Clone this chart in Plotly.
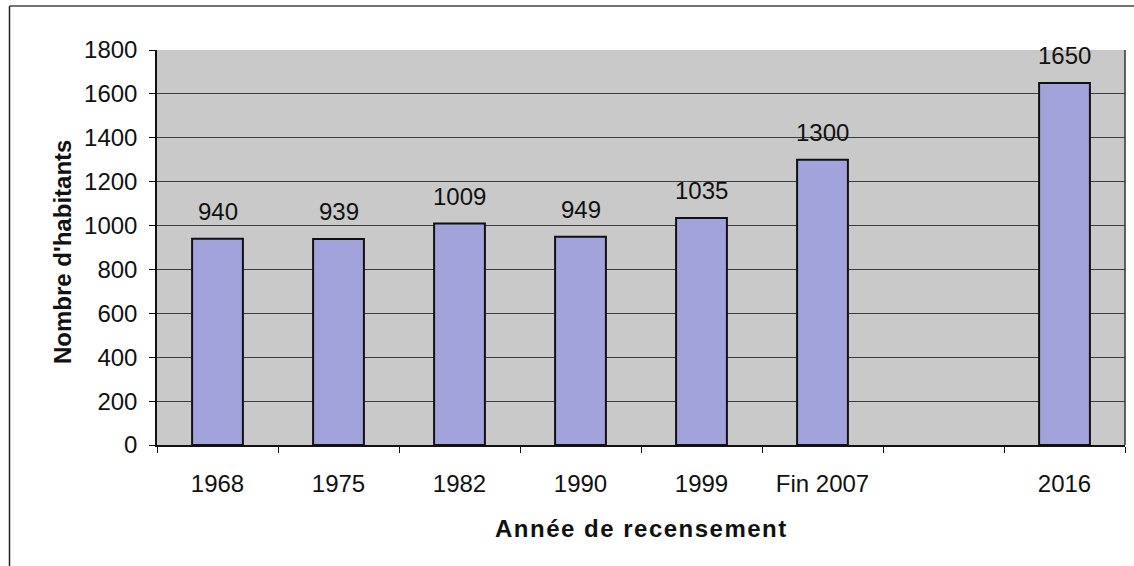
import plotly.graph_objects as go

categories = ["1968", "1975", "1982", "1990", "1999", "Fin 2007", " ", "2016"]
habitants = [940, 939, 1009, 949, 1035, 1300, None, 1650]
y_ticks = [0, 200, 400, 600, 800, 1000, 1200, 1400, 1600, 1800]

FONT = "Liberation Sans, Arial, sans-serif"

fig = go.Figure()
fig.add_trace(go.Bar(
    x=categories, y=habitants,
    marker=dict(color="#a3a3dc", line=dict(color="#111111", width=2)),
    width=0.42,
    hoverinfo="x+y",
))

annotations = []
for i, v in enumerate(habitants):
    if v is None:
        continue
    annotations.append(dict(
        x=i, y=v, xref="x", yref="y", text=str(v), showarrow=False,
        yanchor="middle", yshift=27,
        font=dict(family=FONT, size=24, color="#111111"),
    ))

L, R, T, B = 157, 9, 50, 121
W, H = 1134 - L - R, 566 - T - B

def px(xp):
    return (xp - L) / W

def py(yp):
    return (566 - B - yp) / H

annotations.append(dict(
    x=px(641), y=py(528), xref="paper", yref="paper",
    text='<span style="letter-spacing:1.5px">Année de recensement</span>',
    showarrow=False, xanchor="center", yanchor="middle",
    font=dict(family=FONT, size=24, color="#111111", weight="bold"),
))
annotations.append(dict(
    x=px(62), y=py(252), xref="paper", yref="paper",
    text="Nombre d'habitants", textangle=-90,
    showarrow=False, xanchor="center", yanchor="middle",
    font=dict(family=FONT, size=24, color="#111111", weight="bold"),
))

shapes = [
    dict(type="line", xref="paper", yref="paper",
         x0=px(9.5), x1=px(9.5), y0=py(6), y1=py(566),
         line=dict(color="#222222", width=1.5)),
    dict(type="line", xref="paper", yref="paper",
         x0=px(9.5), x1=px(1134), y0=py(6), y1=py(6),
         line=dict(color="#444444", width=1.5)),
    dict(type="line", xref="paper", yref="paper", x0=1, x1=1, y0=0, y1=1,
         line=dict(color="#333333", width=1.5)),
]

fig.update_layout(
    width=1134, height=566,
    margin=dict(l=L, r=R, t=T, b=B),
    paper_bgcolor="white",
    plot_bgcolor="#c8c9c8",
    showlegend=False,
    annotations=annotations,
    shapes=shapes,
    font=dict(family=FONT, size=24, color="#111111"),
)
fig.update_xaxes(
    type="category", categoryorder="array", categoryarray=categories,
    range=[-0.5, len(categories) - 0.5],
    tickson="boundaries", ticks="outside", ticklen=6, tickcolor="#111111",
    showline=True, linecolor="#111111", linewidth=1.5,
    showgrid=False, ticklabelstandoff=16, tickangle=0,
    tickfont=dict(family=FONT, size=24, color="#111111"),
)
fig.update_yaxes(
    range=[0, 1800], tickvals=y_ticks,
    ticks="outside", ticklen=6, tickcolor="#111111",
    showline=True, linecolor="#111111", linewidth=1.5, mirror=False,
    showgrid=True, gridcolor="#3c3c3c", gridwidth=1,
    zeroline=False, ticklabelstandoff=7,
    tickfont=dict(family=FONT, size=24, color="#111111"),
)

fig.write_html(
    "out.html",
    config={"displayModeBar": False},
    post_script="document.body.style.margin='0';document.body.style.padding='0';",
)
